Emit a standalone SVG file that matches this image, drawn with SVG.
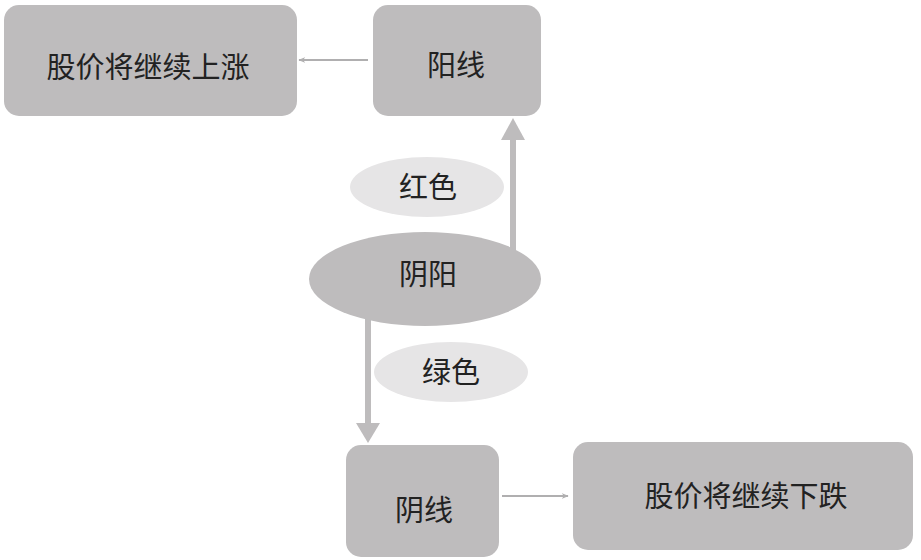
<svg xmlns="http://www.w3.org/2000/svg" width="921" height="560" viewBox="0 0 921 560">
<style>
.box{fill:#bebcbd;}
.pill{fill:#e6e5e6;}
.t{font-family:"Noto Sans CJK SC","Noto Sans CJK TC",sans-serif;font-size:29px;fill:#222222;text-anchor:middle;dominant-baseline:central;font-weight:400;}
.thin{stroke:#b0afb0;stroke-width:2;fill:none;}
.thick{stroke:#bebcbd;stroke-width:6;fill:none;}
</style>
<defs>
<marker id="ah" viewBox="0 0 10 10" refX="9" refY="5" markerWidth="7" markerHeight="7" markerUnits="userSpaceOnUse" orient="auto"><path d="M0,1 L10,5 L0,9 L3,5 Z" fill="#b0afb0"/></marker>
</defs>
<rect width="921" height="560" fill="#ffffff"/>
<g id="connectors">
<line class="thin" x1="368" y1="60" x2="299" y2="60" marker-end="url(#ah)"/>
<line class="thin" x1="502" y1="496" x2="568" y2="496" marker-end="url(#ah)"/>
<line class="thick" x1="513" y1="250" x2="513" y2="138"/>
<path d="M501,140 L525,140 L513,118 Z" fill="#bebcbd"/>
<line class="thick" x1="368" y1="318" x2="368" y2="425"/>
<path d="M356,423 L380,423 L368,443 Z" fill="#bebcbd"/>
</g>
<g id="node-rise">
<rect class="box" x="4" y="5" width="293" height="111" rx="15"/>
<text class="t" x="148" y="65">股价将继续上涨</text>
</g>
<g id="node-yangxian">
<rect class="box" x="373" y="5" width="168" height="111" rx="15"/>
<text class="t" x="456" y="63">阳线</text>
</g>
<g id="label-red">
<ellipse class="pill" cx="427" cy="187" rx="77" ry="30"/>
<text class="t" x="428" y="185">红色</text>
</g>
<g id="node-yinyang">
<ellipse class="box" cx="425" cy="279" rx="116" ry="47"/>
<text class="t" x="428" y="272">阴阳</text>
</g>
<g id="label-green">
<ellipse class="pill" cx="451" cy="372" rx="77" ry="30"/>
<text class="t" x="451" y="370">绿色</text>
</g>
<g id="node-yinxian">
<rect class="box" x="346" y="445" width="153" height="112" rx="15"/>
<text class="t" x="424" y="508">阴线</text>
</g>
<g id="node-fall">
<rect class="box" x="573" y="442" width="340" height="108" rx="15"/>
<text class="t" x="746" y="494">股价将继续下跌</text>
</g>
</svg>
